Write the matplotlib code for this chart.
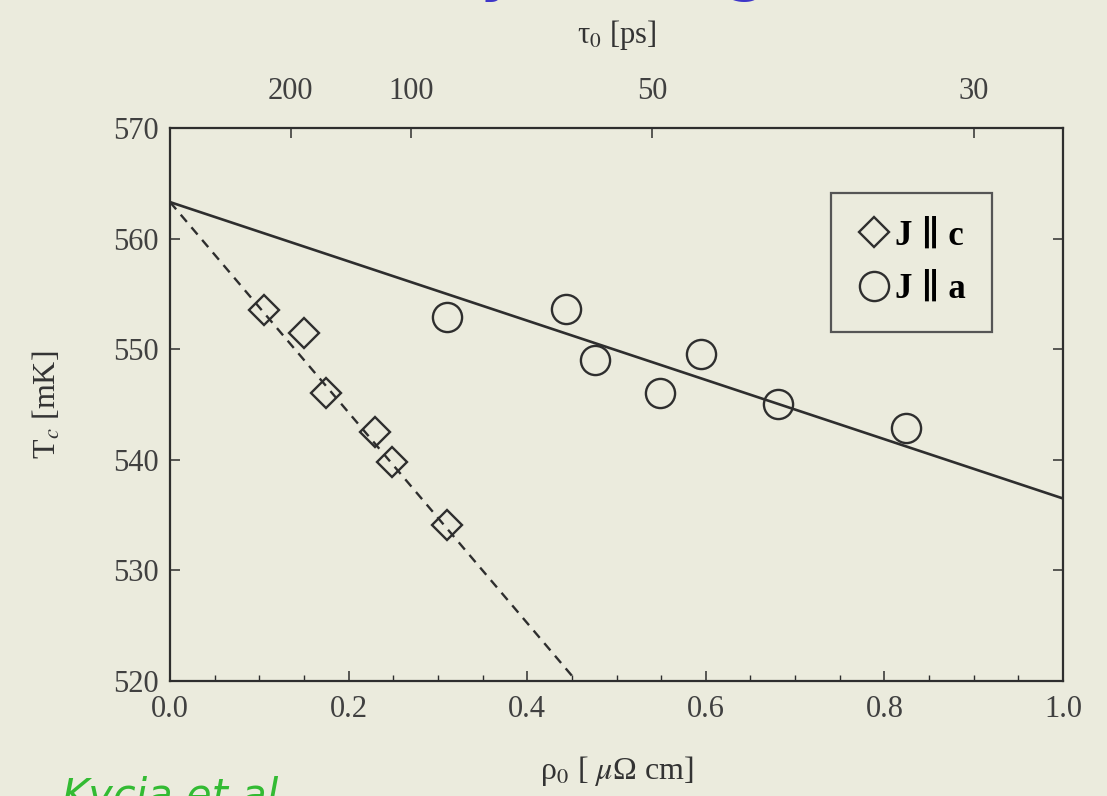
import numpy as np
import matplotlib
matplotlib.use("Agg")
import matplotlib.pyplot as plt
from matplotlib.lines import Line2D
from matplotlib.ticker import MultipleLocator, FormatStrFormatter

plt.rcParams['font.family'] = ['Liberation Serif', 'DejaVu Serif']
plt.rcParams['mathtext.fontset'] = 'stix'

# data
rho_c = [0.105, 0.150, 0.175, 0.230, 0.249, 0.310]
tc_c = [553.5, 551.5, 546.0, 542.5, 539.8, 534.1]
rho_a = [0.310, 0.443, 0.476, 0.549, 0.595, 0.681, 0.824]
tc_a = [552.9, 553.6, 549.0, 546.0, 549.6, 545.0, 542.9]

# fitted lines (end points)
fit_a_rho = [0.0, 1.0]
fit_a_tc = [563.3, 536.5]
fit_c_rho = [0.0, 0.455]
fit_c_tc = [563.3, 520.0]

# top axis: tau0 = K / rho0
tau_ticks = [200, 100, 50, 30]
K_TAU = 27.0

BG = '#ebebdd'
INK = '#2e2e2e'

fig = plt.figure(figsize=(11.07, 7.96), dpi=100, facecolor=BG)
ax = fig.add_axes([0.1536, 0.1445, 0.8067, 0.6947], facecolor=BG)

ax.plot(fit_a_rho, fit_a_tc, color=INK, lw=1.9)
ax.plot(fit_c_rho, fit_c_tc, color=INK, lw=1.7, ls=(0, (4, 3)))
ax.plot(rho_c, tc_c, ls='none', marker='D', ms=15, mfc='none', mec=INK, mew=1.7)
ax.plot(rho_a, tc_a, ls='none', marker='o', ms=21, mfc='none', mec=INK, mew=1.7)

ax.xaxis.set_major_locator(MultipleLocator(0.2))
ax.xaxis.set_minor_locator(MultipleLocator(0.05))
ax.xaxis.set_major_formatter(FormatStrFormatter('%.1f'))
ax.yaxis.set_major_locator(MultipleLocator(10))
ax.yaxis.set_minor_locator(MultipleLocator(2))
ax.set_xlim(0, 1.0)
ax.set_ylim(520, 570)
ax.tick_params(which='both', direction='in', top=False, right=True, colors=INK,
               labelsize=22, labelcolor='#404040')
ax.tick_params(which='major', length=7, width=1.1)
ax.tick_params(which='minor', length=4, width=1.0)
ax.tick_params(axis='x', pad=10)
ax.tick_params(axis='y', pad=8)
for s in ax.spines.values():
    s.set_linewidth(1.6)
    s.set_color(INK)

ax.set_xlabel(r'ρ$_0$ [ $\mu$Ω cm]', fontsize=23, color='#333333', labelpad=22)
ax.set_ylabel(r'T$_c$ [mK]', fontsize=23, color='#333333', labelpad=36)

top = ax.twiny()
top.set_xlim(0, 1.0)
top.set_xticks([K_TAU / t for t in tau_ticks])
top.set_xticklabels([str(t) for t in tau_ticks])
top.tick_params(direction='in', length=7, width=1.1, colors=INK, labelsize=22,
                labelcolor='#404040', pad=16)
top.minorticks_off()
for s in top.spines.values():
    s.set_visible(False)
top.set_xlabel(r'τ$_0$ [ps]', fontsize=22, color='#333333', labelpad=24)

handles = [
    Line2D([], [], ls='none', marker='D', ms=15, mfc='none', mec=INK, mew=1.7),
    Line2D([], [], ls='none', marker='o', ms=21, mfc='none', mec=INK, mew=1.7),
]
leg = ax.legend(handles, ['J \u2225 c', 'J \u2225 a'], loc='upper right',
                bbox_to_anchor=(0.920, 0.882), borderaxespad=0, frameon=True,
                fancybox=False, framealpha=1, facecolor=BG, edgecolor='#555555',
                prop={'weight': 'bold', 'size': 25}, handletextpad=0.1,
                handlelength=1.0, borderpad=0.75, labelspacing=0.6)
leg.get_frame().set_linewidth(1.6)

# bits of the slide around the figure (cut off in the original too)
fig.text(497 / 1107, 1.012, 'y', fontsize=40, color='#3e36c9', fontweight='bold',
         family='DejaVu Sans', ha='center', va='baseline')
fig.text(746 / 1107, 1.012, 'g', fontsize=40, color='#3e36c9', fontweight='bold',
         family='DejaVu Sans', ha='center', va='baseline')
fig.text(62 / 1107, 1 - 776 / 796, 'Kycia et al.', fontsize=30, color='#33bb33',
         style='italic', family='DejaVu Sans', ha='left', va='top')

fig.savefig('out.png', dpi=100, facecolor=BG)
